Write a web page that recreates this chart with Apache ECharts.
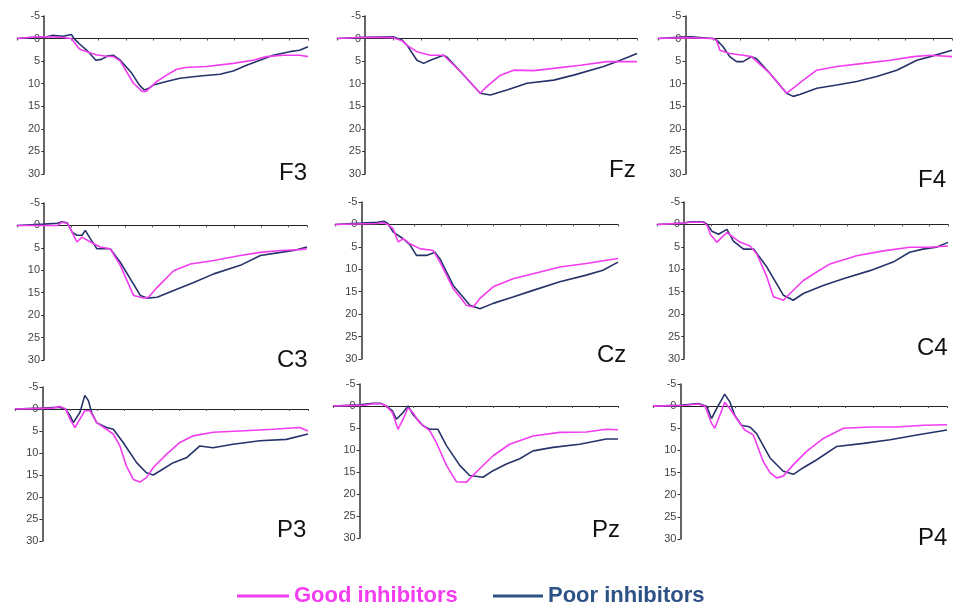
<!DOCTYPE html>
<html>
<head>
<meta charset="utf-8">
<script src="https://cdn.jsdelivr.net/npm/echarts@6/dist/echarts.min.js"></script>
<style>
  html, body { margin: 0; padding: 0; background: #fff; }
  #main { width: 953px; height: 607px; }
</style>
</head>
<body>
<div id="main"></div>
<script>
// ERP waveforms, [time ms, amplitude uV] (amplitude axis is inverted, negative up)
var f3Good = [[-100,0],[-50,-0.3],[0,-0.4],[60,-0.3],[100,0],[125,2],[135,2.5],[160,3],[190,3.6],[230,3.9],[255,4],[280,5],[328,9.9],[360,11.7],[375,11.7],[414,9.5],[450,8.1],[487,6.8],[520,6.4],[597,6.2],[695,5.5],[768,4.8],[817,4],[880,3.7],[940,3.7],[970,4]];
var f3Poor = [[-100,0],[-50,-0.2],[0,-0.3],[30,-0.7],[70,-0.5],[100,-0.9],[110,0],[130,1.2],[160,2.8],[190,4.8],[210,4.6],[235,3.8],[255,3.7],[280,4.8],[320,7.5],[350,10.3],[368,11.4],[385,11],[401,10.3],[450,9.5],[499,8.8],[573,8.3],[646,7.9],[695,7.2],[744,5.9],[793,4.8],[842,3.7],[903,2.9],[939,2.6],[970,1.8]];

var fzGood = [[-100,0],[0,-0.3],[100,-0.2],[132,0.5],[150,1.5],[185,2.9],[233,3.7],[280,3.7],[340,7.3],[411,12.1],[435,10.6],[483,8.1],[530,7.0],[601,7.1],[673,6.6],[768,5.9],[863,5.1],[970,5.1]];
var fzPoor = [[-100,0],[0,-0.3],[100,-0.4],[132,0.3],[150,1.5],[185,4.8],[209,5.5],[233,4.8],[280,3.7],[292,4.1],[340,7.3],[411,12.1],[447,12.5],[506,11.4],[578,9.9],[673,9.2],[744,8.1],[851,6.2],[911,4.8],[970,3.3]];

var f4Good = [[-100,0],[0,-0.2],[100,0],[113,0.4],[125,2.6],[161,3.3],[210,3.7],[240,4.0],[307,7.7],[368,12.1],[392,11.0],[429,9.2],[478,7.0],[551,6.2],[648,5.5],[745,4.8],[830,4.0],[891,3.7],[970,4.0]];
var f4Poor = [[-100,0],[0,-0.4],[20,-0.4],[100,0],[113,0.3],[137,1.8],[161,4.0],[186,5.1],[210,5.1],[240,4.0],[258,4.4],[307,7.7],[368,12.1],[392,12.8],[416,12.4],[478,11.0],[551,10.3],[623,9.5],[696,8.4],[769,7.0],[842,4.8],[891,4.0],[970,2.6]];

var c3Good = [[-100,0],[50,0],[65,-0.7],[85,-0.5],[95,0.4],[109,2.2],[121,3.7],[140,2.6],[171,3.7],[207,4.8],[244,5.2],[281,8.9],[330,15.6],[367,16.2],[385,16.0],[417,13.8],[478,10.1],[540,8.6],[626,7.8],[724,6.7],[798,6.0],[872,5.6],[945,5.4],[970,5.2]];
var c3Poor = [[-100,0],[0,-0.3],[50,-0.5],[65,-0.8],[85,-0.6],[103,1.5],[121,2.2],[140,2.2],[152,1.1],[171,3.0],[195,5.2],[244,5.2],[281,8.2],[355,15.6],[380,16.2],[417,16.0],[478,14.5],[552,12.7],[626,10.8],[724,8.9],[798,6.7],[872,6.0],[921,5.6],[970,4.8]];

var czGood = [[-100,0],[60,-0.2],[80,-0.4],[100,0],[120,1.0],[139,3.9],[158,3.2],[183,4.3],[221,5.4],[271,5.8],[297,8.4],[347,14.3],[397,18.0],[422,18.4],[448,16.5],[498,13.9],[573,12.1],[649,11.0],[750,9.5],[850,8.7],[926,8.0],[970,7.6]];
var czPoor = [[-100,0],[0,-0.3],[60,-0.5],[85,-0.7],[100,-0.2],[120,1.7],[158,3.2],[183,4.5],[208,6.9],[246,6.9],[278,6.2],[297,7.7],[347,13.6],[410,18.0],[448,18.8],[498,17.6],[573,16.2],[649,14.7],[750,12.8],[850,11.3],[913,10.2],[970,8.4]];

var c4Good = [[-100,0],[0,-0.3],[20,-0.5],[70,-0.5],[85,0.3],[96,2.2],[120,4.0],[138,2.9],[157,1.8],[181,2.9],[206,4.0],[242,4.8],[267,6.6],[304,11.7],[328,16.1],[365,16.9],[389,15.4],[438,12.5],[487,10.6],[536,8.8],[634,7.0],[732,5.9],[829,5.1],[903,5.1],[970,4.8]];
var c4Poor = [[-100,0],[0,-0.3],[20,-0.6],[70,-0.6],[85,0],[102,1.5],[126,2.2],[157,1.1],[181,3.7],[218,5.5],[255,5.5],[304,9.5],[365,15.8],[401,16.9],[438,15.4],[511,13.6],[585,12.1],[683,10.3],[768,8.4],[829,6.2],[878,5.5],[927,5.1],[970,4.0]];

var p3Good = [[-100,0],[40,-0.2],[64,-0.6],[85,0],[101,2.3],[119,4.2],[137,2.3],[155,0.4],[174,0.4],[198,3.1],[234,4.6],[259,5.7],[283,8.4],[307,13.0],[332,16.0],[356,16.6],[380,15.6],[405,13.3],[453,10.3],[502,7.6],[551,6.1],[623,5.3],[721,5.0],[842,4.6],[940,4.2],[970,5.0]];
var p3Poor = [[-100,0],[0,-0.2],[60,-0.4],[85,0],[101,1.5],[113,3.1],[137,0.8],[155,-3.1],[168,-1.9],[180,0.8],[198,3.1],[234,4.2],[259,4.6],[295,7.6],[344,12.2],[380,14.5],[405,15.0],[429,14.1],[478,12.2],[526,11.1],[575,8.4],[623,8.8],[696,8.0],[794,7.2],[891,6.9],[970,5.7]];

var pzGood = [[-100,0],[20,-0.2],[50,-0.5],[80,-0.5],[100,0],[123,1.5],[144,5.3],[163,3.0],[182,0.4],[200,1.5],[225,3.8],[263,5.6],[288,8.3],[326,13.5],[363,17.2],[401,17.3],[438,15.0],[501,11.3],[563,8.7],[651,6.8],[751,6.0],[851,5.9],[926,5.3],[970,5.4]];
var pzPoor = [[-100,0],[0,-0.3],[50,-0.6],[80,-0.6],[100,0],[123,1.1],[138,3.0],[163,1.5],[182,0],[200,1.9],[238,4.5],[263,5.3],[294,5.3],[326,9.0],[376,13.5],[413,15.8],[463,16.2],[501,14.7],[551,13.2],[601,12.0],[651,10.2],[726,9.4],[826,8.7],[926,7.5],[970,7.5]];

var p4Good = [[-100,0],[20,-0.2],[65,-0.5],[90,0],[113,3.9],[125,5.0],[143,2.1],[161,-0.9],[180,0.6],[204,2.8],[234,5.4],[265,6.5],[301,12.5],[326,15.0],[350,16.2],[374,15.8],[411,13.2],[459,10.2],[520,7.3],[593,5.0],[690,4.7],[788,4.7],[885,4.3],[970,4.2]];
var p4Poor = [[-100,0],[0,-0.2],[65,-0.6],[95,0],[113,2.8],[131,0.6],[161,-2.7],[180,-0.9],[198,2.1],[222,4.3],[253,4.7],[277,6.2],[326,11.7],[374,14.7],[411,15.4],[447,13.9],[496,12.1],[569,9.1],[666,8.4],[763,7.6],[860,6.5],[970,5.4]];

var electrodes = ['F3', 'Fz', 'F4', 'C3', 'Cz', 'C4', 'P3', 'Pz', 'P4'];
var goodData = [f3Good, fzGood, f4Good, c3Good, czGood, c4Good, p3Good, pzGood, p4Good];
var poorData = [f3Poor, fzPoor, f4Poor, c3Poor, czPoor, c4Poor, p3Poor, pzPoor, p4Poor];

var timeMin = -100, timeMax = 970;
var ampMin = -5, ampMax = 30;

// panel boxes (px) and electrode label spots
var boxes = [
    {left: 17,  top: 16,  width: 291, height: 158, lx: 279, ly: 161},
    {left: 337, top: 16,  width: 300, height: 158, lx: 609, ly: 158},
    {left: 658, top: 16,  width: 294, height: 158, lx: 918, ly: 168},
    {left: 17,  top: 203, width: 290, height: 157, lx: 277, ly: 348},
    {left: 335, top: 202, width: 283, height: 157, lx: 597, ly: 343},
    {left: 657, top: 202, width: 291, height: 157, lx: 917, ly: 336},
    {left: 15,  top: 387, width: 293, height: 154, lx: 277, ly: 518},
    {left: 333, top: 384, width: 285, height: 154, lx: 592, ly: 518},
    {left: 653, top: 384, width: 294, height: 155, lx: 918, ly: 526}
];

var goodColor = '#f23cf0';
var poorColor = '#26336a';
var poorText = '#2d5286';
var font = '"Liberation Sans", Arial, sans-serif';

var myChart = echarts.init(document.getElementById('main'));

var grids = [], xAxes = [], yAxes = [], series = [], titles = [];

electrodes.forEach(function (name, i) {
    var b = boxes[i];
    grids.push({left: b.left, top: b.top, width: b.width, height: b.height, containLabel: false});

    xAxes.push({
        gridIndex: i,
        type: 'value',
        min: timeMin,
        max: timeMax,
        interval: 100,
        axisLine: {onZero: true, lineStyle: {color: '#222', width: 1}},
        axisTick: {show: true, length: 2, lineStyle: {color: '#555'}},
        axisLabel: {show: false},
        splitLine: {show: false}
    });

    // shift the amplitude axis (line, ticks, labels) to time 0
    var zeroShift = b.width * (0 - timeMin) / (timeMax - timeMin);
    yAxes.push({
        gridIndex: i,
        type: 'value',
        inverse: true,
        min: ampMin,
        max: ampMax,
        interval: 5,
        offset: -zeroShift,
        axisLine: {show: true, onZero: false, lineStyle: {color: '#333', width: 1.5}},
        axisTick: {show: true, length: 3, lineStyle: {color: '#333'}},
        axisLabel: {fontSize: 11, color: '#444', margin: 4, fontFamily: font},
        splitLine: {show: false}
    });

    series.push({
        name: 'Poor inhibitors',
        type: 'line',
        xAxisIndex: i,
        yAxisIndex: i,
        data: poorData[i],
        showSymbol: false,
        color: poorColor,
        lineStyle: {width: 1.6, color: poorColor}
    });
    series.push({
        name: 'Good inhibitors',
        type: 'line',
        xAxisIndex: i,
        yAxisIndex: i,
        data: goodData[i],
        showSymbol: false,
        color: goodColor,
        lineStyle: {width: 1.6, color: goodColor}
    });

    titles.push({
        text: name,
        left: b.lx,
        top: b.ly,
        padding: 0,
        textStyle: {fontSize: 24, fontWeight: 'normal', color: '#111', fontFamily: font}
    });
});

myChart.setOption({
    animation: false,
    backgroundColor: '#fff',
    title: titles,
    legend: [
        {
            left: 232,
            top: 580,
            icon: 'rect',
            itemWidth: 52,
            itemHeight: 3,
            selectedMode: false,
            data: [{name: 'Good inhibitors', itemStyle: {color: goodColor}}],
            textStyle: {fontSize: 22, fontWeight: 'bold', color: goodColor, fontFamily: font}
        },
        {
            left: 488,
            top: 580,
            icon: 'rect',
            itemWidth: 50,
            itemHeight: 3,
            selectedMode: false,
            data: [{name: 'Poor inhibitors', itemStyle: {color: poorText}}],
            textStyle: {fontSize: 22, fontWeight: 'bold', color: poorText, fontFamily: font}
        }
    ],
    grid: grids,
    xAxis: xAxes,
    yAxis: yAxes,
    series: series
});
</script>
</body>
</html>
